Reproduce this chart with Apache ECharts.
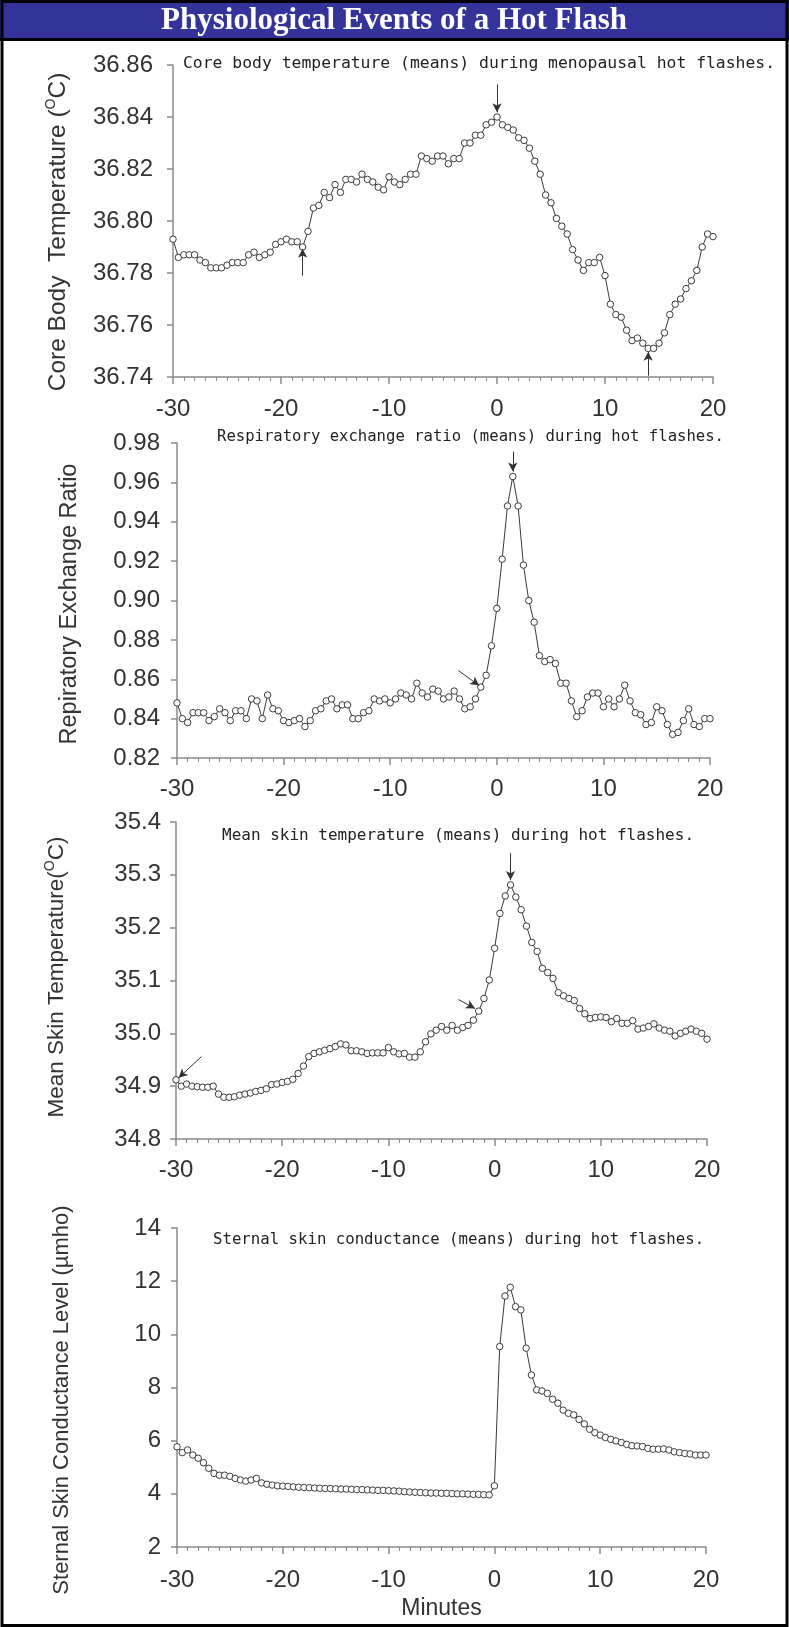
<!DOCTYPE html>
<html>
<head>
<meta charset="utf-8">
<title>Physiological Events of a Hot Flash</title>
<script src="https://cdn.jsdelivr.net/npm/echarts@6.0.0/dist/echarts.min.js"></script>
<style>
  html, body { margin: 0; padding: 0; background: #fff; }
  #main { width: 789px; height: 1627px; }
</style>
</head>
<body>
<div id="main"></div>
<script>
// sample times (minutes relative to hot flash onset)
const minutes = [
  -30, -29.5, -29, -28.5, -28, -27.5, -27, -26.5, -26, -25.5,
  -25, -24.5, -24, -23.5, -23, -22.5, -22, -21.5, -21, -20.5,
  -20, -19.5, -19, -18.5, -18, -17.5, -17, -16.5, -16, -15.5,
  -15, -14.5, -14, -13.5, -13, -12.5, -12, -11.5, -11, -10.5,
  -10, -9.5, -9, -8.5, -8, -7.5, -7, -6.5, -6, -5.5,
  -5, -4.5, -4, -3.5, -3, -2.5, -2, -1.5, -1, -0.5,
  0, 0.5, 1, 1.5, 2, 2.5, 3, 3.5, 4, 4.5,
  5, 5.5, 6, 6.5, 7, 7.5, 8, 8.5, 9, 9.5,
  10, 10.5, 11, 11.5, 12, 12.5, 13, 13.5, 14, 14.5,
  15, 15.5, 16, 16.5, 17, 17.5, 18, 18.5, 19, 19.5,
  20
];

const coreTemp = [
  36.793, 36.786, 36.787, 36.787, 36.787, 36.785, 36.784, 36.782, 36.782, 36.782,
  36.783, 36.784, 36.784, 36.784, 36.787, 36.788, 36.786, 36.787, 36.788, 36.791,
  36.792, 36.793, 36.792, 36.792, 36.790, 36.796, 36.805, 36.806, 36.811, 36.809,
  36.814, 36.811, 36.816, 36.816, 36.815, 36.818, 36.816, 36.815, 36.813, 36.812,
  36.817, 36.815, 36.814, 36.816, 36.818, 36.818, 36.825, 36.824, 36.823, 36.825,
  36.825, 36.822, 36.824, 36.824, 36.830, 36.830, 36.833, 36.833, 36.837, 36.838,
  36.840, 36.837, 36.836, 36.835, 36.832, 36.831, 36.828, 36.823, 36.818, 36.810,
  36.807, 36.801, 36.798, 36.795, 36.789, 36.785, 36.781, 36.784, 36.784, 36.786,
  36.779, 36.768, 36.764, 36.763, 36.758, 36.754, 36.755, 36.753, 36.751, 36.751,
  36.753, 36.757, 36.764, 36.768, 36.770, 36.774, 36.777, 36.781, 36.790, 36.795,
  36.794
];

const respRatio = [
  0.848, 0.840, 0.838, 0.843, 0.843, 0.843, 0.839, 0.841, 0.845, 0.843,
  0.839, 0.844, 0.844, 0.840, 0.850, 0.849, 0.840, 0.852, 0.845, 0.844,
  0.839, 0.838, 0.839, 0.840, 0.836, 0.839, 0.844, 0.845, 0.849, 0.850,
  0.845, 0.847, 0.847, 0.840, 0.840, 0.843, 0.844, 0.850, 0.849, 0.850,
  0.848, 0.850, 0.853, 0.852, 0.850, 0.858, 0.853, 0.851, 0.855, 0.854,
  0.850, 0.851, 0.854, 0.850, 0.845, 0.846, 0.850, 0.856, 0.862, 0.877,
  0.896, 0.921, 0.948, 0.963, 0.948, 0.918, 0.900, 0.889, 0.872, 0.869,
  0.870, 0.868, 0.858, 0.858, 0.849, 0.841, 0.844, 0.851, 0.853, 0.853,
  0.846, 0.850, 0.846, 0.850, 0.857, 0.849, 0.843, 0.842, 0.837, 0.838,
  0.846, 0.844, 0.837, 0.832, 0.833, 0.839, 0.845, 0.837, 0.836, 0.840,
  0.840
];

const skinTemp = [
  34.912, 34.900, 34.904, 34.900, 34.899, 34.898, 34.898, 34.900, 34.885, 34.879,
  34.879, 34.880, 34.883, 34.885, 34.887, 34.890, 34.892, 34.895, 34.903, 34.904,
  34.907, 34.909, 34.913, 34.924, 34.938, 34.956, 34.962, 34.965, 34.968, 34.971,
  34.975, 34.980, 34.978, 34.967, 34.967, 34.965, 34.962, 34.963, 34.963, 34.963,
  34.973, 34.965, 34.961, 34.962, 34.955, 34.955, 34.965, 34.984, 34.999, 35.006,
  35.013, 35.006, 35.015, 35.006, 35.011, 35.015, 35.025, 35.042, 35.066, 35.101,
  35.161, 35.227, 35.260, 35.281, 35.258, 35.234, 35.203, 35.172, 35.155, 35.123,
  35.115, 35.104, 35.077, 35.071, 35.066, 35.062, 35.047, 35.037, 35.028, 35.030,
  35.031, 35.030, 35.022, 35.028, 35.019, 35.019, 35.024, 35.008, 35.010, 35.013,
  35.018, 35.010, 35.006, 35.004, 34.995, 35.000, 35.004, 35.008, 35.004, 35.000,
  34.989
];

const conductance = [
  5.77, 5.55, 5.65, 5.46, 5.34, 5.17, 4.96, 4.77, 4.70, 4.70,
  4.66, 4.58, 4.52, 4.48, 4.52, 4.58, 4.41, 4.36, 4.33, 4.30,
  4.29, 4.28, 4.26, 4.25, 4.24, 4.23, 4.22, 4.21, 4.20, 4.20,
  4.19, 4.18, 4.18, 4.17, 4.16, 4.16, 4.15, 4.14, 4.13, 4.13,
  4.12, 4.11, 4.10, 4.08, 4.07, 4.06, 4.05, 4.04, 4.03, 4.03,
  4.02, 4.02, 4.01, 4.00, 4.00, 3.99, 3.98, 3.98, 3.97, 3.96,
  4.30, 9.54, 11.44, 11.77, 11.04, 10.92, 9.48, 8.47, 7.91, 7.87,
  7.78, 7.56, 7.41, 7.15, 7.03, 6.97, 6.80, 6.63, 6.43, 6.30,
  6.21, 6.12, 6.05, 5.99, 5.93, 5.86, 5.81, 5.80, 5.78, 5.71,
  5.68, 5.68, 5.69, 5.65, 5.58, 5.55, 5.52, 5.50, 5.46, 5.46,
  5.46
];

// arrows drawn on the plots: [fromMinute, fromValue, toMinute, toValue]
const coreArrows = [[-18, 36.779, -18, 36.7893], [0, 36.8525, 0, 36.8418], [14, 36.7405, 14, 36.7497]];
const respArrows = [[1.5, 0.9756, 1.5, 0.9655], [-3.6, 0.8644, -1.65, 0.8568]];
const skinArrows = [[1.5, 35.341, 1.5, 35.29], [-3.4, 35.064, -1.85, 35.047], [-27.6, 34.956, -29.75, 34.916]];

const panelTitles = [
  'Core body temperature (means) during menopausal hot flashes.',
  'Respiratory exchange ratio (means) during hot flashes.',
  'Mean skin temperature (means) during hot flashes.',
  'Sternal skin conductance (means) during hot flashes.'
];
const yNames = [
  '{t|Core Body  Temperature (}{sup|O}{t|C)}',
  '{t|Repiratory Exchange Ratio}',
  '{t|Mean Skin Temperature(}{sup|O}{t|C)}',
  '{t|Sternal Skin Conductance Level (\u00b5mho)}'
];

const sansFont = '"Liberation Sans", Arial, sans-serif';
const axisGray = '#8a8a8a';
const inkColor = '#333';

function pairUp(values) {
  return minutes.map((m, i) => [m, values[i]]);
}

function arrowLines(list) {
  return list.map(a => [{ coord: [a[0], a[1]] }, { coord: [a[2], a[3]] }]);
}

function makeX(gridIndex, labelMargin, name) {
  return {
    type: 'value', gridIndex: gridIndex,
    min: -30, max: 20, interval: 10,
    name: name || '', nameLocation: 'middle', nameGap: 50,
    nameTextStyle: { fontFamily: sansFont, fontSize: 23, color: inkColor },
    axisLine: { show: true, onZero: false, lineStyle: { color: axisGray, width: 1.5 } },
    axisTick: { show: true, length: 7, lineStyle: { color: axisGray, width: 1.5 } },
    minorTick: { show: true, splitNumber: 10, length: 4, lineStyle: { color: axisGray, width: 1 } },
    splitLine: { show: false },
    axisLabel: { margin: labelMargin, fontFamily: sansFont, fontSize: 24, color: inkColor }
  };
}

function makeY(gridIndex, min, max, interval, digits, labelMargin) {
  return {
    type: 'value', gridIndex: gridIndex,
    min: min, max: max, interval: interval,
    axisLine: { show: true, onZero: false, lineStyle: { color: axisGray, width: 1.5 } },
    axisTick: { show: true, length: 6, lineStyle: { color: axisGray, width: 1.5 } },
    splitLine: { show: false },
    axisLabel: {
      margin: labelMargin, fontFamily: sansFont, fontSize: 24, color: inkColor,
      formatter: v => v.toFixed(digits)
    }
  };
}

// rotated y titles, drawn as graphics
function yTitle(idx, cx, cy, size) {
  return {
    type: 'text', x: cx, y: cy, rotation: Math.PI / 2, z: 5,
    style: {
      text: yNames[idx], fill: inkColor,
      align: 'center', verticalAlign: 'middle',
      rich: {
        t: { fontFamily: sansFont, fontSize: size, fill: inkColor, lineHeight: 28, verticalAlign: 'middle' },
        sup: { fontFamily: sansFont, fontSize: 14, fill: inkColor, lineHeight: 28, verticalAlign: 'top' }
      }
    }
  };
}

function makeSeries(idx, values, arrows) {
  const s = {
    type: 'line', xAxisIndex: idx, yAxisIndex: idx,
    data: pairUp(values),
    symbol: 'circle', symbolSize: 6.5, showSymbol: true,
    lineStyle: { color: '#3a3a3a', width: 1 },
    itemStyle: { color: '#fff', borderColor: '#3a3a3a', borderWidth: 1 },
    silent: true
  };
  if (arrows) {
    s.markLine = {
      silent: true, animation: false,
      symbol: ['none', 'arrow'], symbolSize: [7, 9],
      label: { show: false },
      lineStyle: { color: '#333', width: 1, type: 'solid' },
      data: arrowLines(arrows)
    };
  }
  return s;
}

const titleStyle = (size) => ({ fontFamily: '"DejaVu Sans Mono", monospace', fontSize: size, fontWeight: 'normal', color: '#222' });

const option = {
  backgroundColor: '#fff',
  animation: false,
  title: [
    { text: panelTitles[0], left: 183, top: 56, padding: 0, textStyle: titleStyle(16.4) },
    { text: panelTitles[1], left: 217, top: 429, padding: 0, textStyle: titleStyle(15.6) },
    { text: panelTitles[2], left: 222, top: 828, padding: 0, textStyle: titleStyle(16) },
    { text: panelTitles[3], left: 213, top: 1232, padding: 0, textStyle: titleStyle(15.7) }
  ],
  grid: [
    { left: 173, top: 65, width: 540, height: 312 },
    { left: 177, top: 443, width: 533, height: 315 },
    { left: 176, top: 822, width: 531, height: 317 },
    { left: 177, top: 1228, width: 529, height: 319 }
  ],
  xAxis: [
    makeX(0, 20),
    makeX(1, 19),
    makeX(2, 19),
    makeX(3, 21, 'Minutes')
  ],
  yAxis: [
    makeY(0, 36.74, 36.86, 0.02, 2, 20),
    makeY(1, 0.82, 0.98, 0.02, 2, 17),
    makeY(2, 34.8, 35.4, 0.1, 1, 15),
    makeY(3, 2, 14, 2, 0, 16)
  ],
  series: [
    makeSeries(0, coreTemp, coreArrows),
    makeSeries(1, respRatio, respArrows),
    makeSeries(2, skinTemp, skinArrows),
    makeSeries(3, conductance)
  ],
  graphic: [
    // header band
    { type: 'rect', z: 10, shape: { x: 0, y: 0, width: 789, height: 41 }, style: { fill: '#333399' } },
    { type: 'rect', z: 11, shape: { x: 0, y: 38, width: 789, height: 3 }, style: { fill: '#000' } },
    {
      type: 'text', z: 12, x: 394, y: 21,
      style: {
        text: 'Physiological Events of a Hot Flash',
        fill: '#fff', font: 'bold 31px "Liberation Serif", "Times New Roman", serif',
        align: 'center', verticalAlign: 'middle'
      }
    },
    yTitle(0, 58, 232, 24.5),
    yTitle(1, 70, 604, 23.5),
    yTitle(2, 57, 977, 22.5),
    yTitle(3, 62, 1400, 22),
    // outer frame
    { type: 'rect', z: 13, shape: { x: 2, y: 1.5, width: 785, height: 1624 }, style: { fill: 'none', stroke: '#000', lineWidth: 3 } }
  ]
};

const chart = echarts.init(document.getElementById('main'), null, { renderer: 'canvas' });
chart.setOption(option);
</script>
</body>
</html>
